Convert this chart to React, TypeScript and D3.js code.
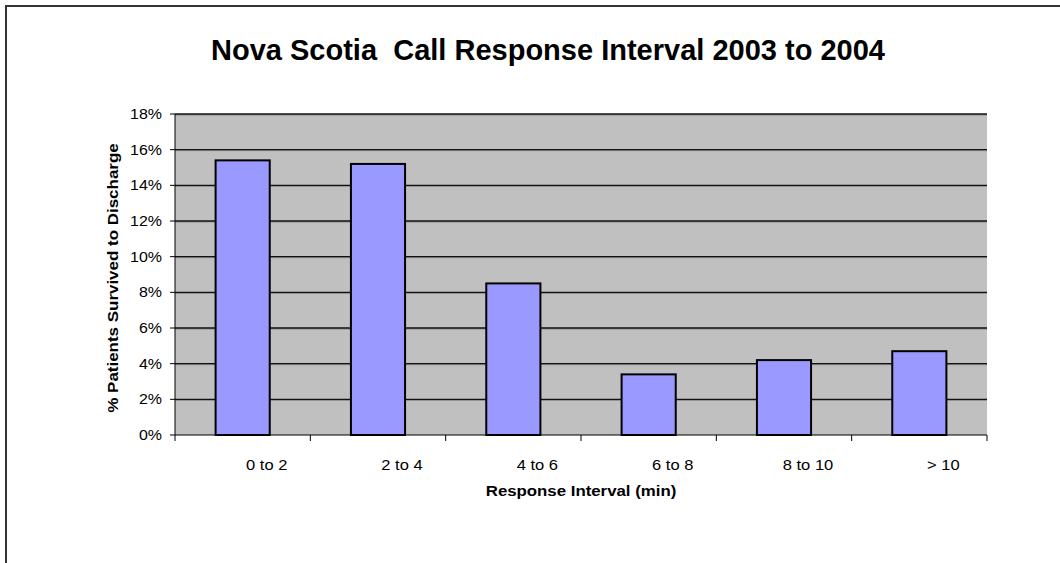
import React from "react";
import * as d3 from "d3";

// Survival to discharge by response interval bucket
const categories: string[] = ["0 to 2", "2 to 4", "4 to 6", "6 to 8", "8 to 10", "> 10"];
const survivedPct: number[] = [15.4, 15.2, 8.5, 3.4, 4.2, 4.7];
const yTicks: number[] = [0, 2, 4, 6, 8, 10, 12, 14, 16, 18];

const W = 1060;
const H = 563;
const plot = { left: 175, right: 987, top: 114, bottom: 435 };
const FONT = "'Liberation Sans', Arial, Helvetica, sans-serif";

export default function App() {
  const x = d3
    .scaleBand<string>()
    .domain(categories)
    .range([plot.left, plot.right])
    .paddingInner(0)
    .paddingOuter(0);
  const y = d3.scaleLinear().domain([0, 18]).range([plot.bottom, plot.top]);
  const barW = x.bandwidth() * 0.4;
  const boundaries = categories.map((c) => x(c) as number).concat([plot.right]);

  return (
    <svg
      width={W}
      height={H}
      style={{ position: "absolute", left: 0, top: 0, background: "#fff" }}
      fontFamily={FONT}
    >
      {/* chart frame */}
      <rect x={6} y={6} width={W + 20} height={H + 20} fill="none" stroke="#333" strokeWidth={2} />

      {/* title */}
      <text
        x={548}
        y={60}
        textAnchor="middle"
        fontSize={30}
        fontWeight="bold"
        fill="#000"
        textLength={674}
        lengthAdjust="spacingAndGlyphs"
      >
        Nova Scotia{"\u00A0\u00A0"}Call Response Interval 2003 to 2004
      </text>

      {/* plot area */}
      <rect
        x={plot.left}
        y={plot.top}
        width={plot.right - plot.left}
        height={plot.bottom - plot.top}
        fill="#C0C0C0"
      />

      {/* gridlines */}
      {yTicks
        .filter((t) => t > 0)
        .map((t) => (
          <g key={"g" + t}>
            <line x1={plot.left} x2={plot.right} y1={y(t) + 1} y2={y(t) + 1} stroke="#8a8a8a" strokeWidth={1} />
            <line x1={plot.left} x2={plot.right} y1={y(t)} y2={y(t)} stroke="#111" strokeWidth={1.3} />
          </g>
        ))}

      {/* bars */}
      {categories.map((c, i) => {
        const cx = (x(c) as number) + x.bandwidth() / 2;
        return (
          <rect
            key={c}
            x={cx - barW / 2}
            y={y(survivedPct[i])}
            width={barW}
            height={y(0) - y(survivedPct[i])}
            fill="#9999FF"
            stroke="#000"
            strokeWidth={2}
          />
        );
      })}

      {/* y axis */}
      <line x1={plot.left} x2={plot.left} y1={plot.top} y2={plot.bottom} stroke="#000" strokeWidth={1} />
      {yTicks.map((t) => (
        <g key={"y" + t}>
          <line x1={plot.left - 5} x2={plot.left} y1={y(t)} y2={y(t)} stroke="#000" strokeWidth={1} />
          <text
            transform={`translate(162,${y(t) + 5}) scale(1.1,1)`}
            textAnchor="end"
            fontSize={14.5}
            fill="#000"
          >
            {t + "%"}
          </text>
        </g>
      ))}

      {/* x axis */}
      <line x1={plot.left} x2={plot.right} y1={plot.bottom} y2={plot.bottom} stroke="#000" strokeWidth={1} />
      {boundaries.map((bx, i) => (
        <line key={"t" + i} x1={bx} x2={bx} y1={plot.bottom} y2={plot.bottom + 6} stroke="#000" strokeWidth={1} />
      ))}
      {categories.map((c) => (
        <text
          key={"l" + c}
          transform={`translate(${(x(c) as number) + x.bandwidth() / 2 + 24},470) scale(1.14,1)`}
          textAnchor="middle"
          fontSize={14.5}
          fill="#000"
        >
          {c}
        </text>
      ))}

      {/* axis titles */}
      <text
        transform="translate(581,496) scale(1.16,1)"
        textAnchor="middle"
        fontSize={14.5}
        fontWeight="bold"
        fill="#000"
      >
        Response Interval (min)
      </text>
      <text
        transform="translate(118,278) rotate(-90) scale(1.17,1)"
        textAnchor="middle"
        fontSize={14.5}
        fontWeight="bold"
        fill="#000"
      >
        % Patients Survived to Discharge
      </text>
    </svg>
  );
}
